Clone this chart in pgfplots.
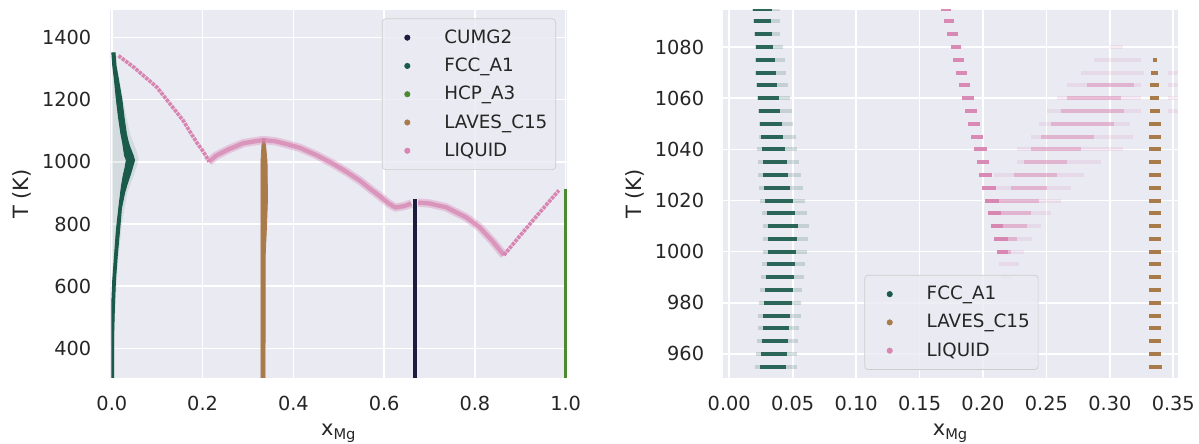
\documentclass[border=0pt]{standalone}
\usepackage{fontspec}
\setmainfont{DejaVu Sans}
\usepackage{pgfplots}
\pgfplotsset{compat=1.18}
\usepackage{pgfplotstable}
\definecolor{bgc}{HTML}{EAEAF2}
\definecolor{txtc}{HTML}{262626}
\definecolor{legedge}{HTML}{CCCCCC}
\definecolor{cumgc}{HTML}{1C1D3E}
\definecolor{fccc}{HTML}{1A5A4B}
\definecolor{hcpc}{HTML}{4B8A31}
\definecolor{lavc}{HTML}{A97B4B}
\definecolor{liqc}{HTML}{D885B2}

% Right panel data: T, dense low/high, faint low/high
\pgfplotstableread{
T lo hi flo fhi
1095 0.0190 0.0335 0.0180 0.0400
1090 0.0195 0.0327 0.0185 0.0401
1085 0.0203 0.0335 0.0193 0.0401
1080 0.0211 0.0348 0.0201 0.0427
1075 0.0211 0.0361 0.0201 0.0440
1070 0.0211 0.0369 0.0201 0.0448
1065 0.0221 0.0379 0.0211 0.0466
1060 0.0229 0.0393 0.0219 0.0480
1055 0.0235 0.0401 0.0225 0.0498
1050 0.0243 0.0414 0.0233 0.0506
1045 0.0248 0.0427 0.0238 0.0527
1040 0.0256 0.0440 0.0216 0.0532
1035 0.0264 0.0458 0.0224 0.0553
1030 0.0269 0.0466 0.0229 0.0564
1025 0.0274 0.0480 0.0234 0.0580
1020 0.0282 0.0506 0.0242 0.0598
1015 0.0295 0.0519 0.0255 0.0611
1010 0.0308 0.0545 0.0268 0.0632
1005 0.0308 0.0537 0.0268 0.0624
1000 0.0308 0.0527 0.0268 0.0611
995 0.0295 0.0519 0.0255 0.0598
990 0.0290 0.0514 0.0250 0.0590
985 0.0282 0.0506 0.0242 0.0572
980 0.0277 0.0493 0.0237 0.0564
975 0.0269 0.0480 0.0229 0.0564
970 0.0264 0.0472 0.0224 0.0553
965 0.0258 0.0466 0.0218 0.0545
960 0.0253 0.0458 0.0213 0.0537
955 0.0243 0.0448 0.0203 0.0532
950 0.0243 0.0440 0.0203 0.0520
}\fccR

\pgfplotstableread{
T lo hi
1095 0.1670 0.1744
1090 0.1691 0.1775
1085 0.1717 0.1801
1080 0.1744 0.1828
1075 0.1765 0.1854
1070 0.1788 0.1875
1065 0.1812 0.1901
1060 0.1836 0.1928
1055 0.1857 0.1954
1050 0.1880 0.1975
1045 0.1904 0.2001
1040 0.1928 0.2028
1035 0.1949 0.2049
1030 0.1970 0.2073
1025 0.1994 0.2099
1020 0.2015 0.2125
1015 0.2038 0.2140
1010 0.2060 0.2160
1005 0.2086 0.2200
1000 0.2107 0.2200
}\liqDense

\pgfplotstableread{
T lo hi
1000 0.2107 0.2218
1005 0.2086 0.2270
1010 0.2060 0.2349
1015 0.2038 0.2375
1020 0.2015 0.2441
1025 0.2218 0.2507
1030 0.2244 0.2586
1035 0.2323 0.2665
1040 0.2375 0.2771
1045 0.2455 0.2876
1050 0.2533 0.3034
1055 0.2612 0.3113
1060 0.2665 0.3086
1065 0.2823 0.3192
}\liqMed

\pgfplotstableread{
T lo hi
990 0.2152 0.2231
995 0.2125 0.2283
1000 0.2107 0.2323
1005 0.2086 0.2389
1010 0.2060 0.2455
1015 0.2038 0.2533
1020 0.2015 0.2612
1025 0.2073 0.2691
1030 0.2086 0.2797
1035 0.2270 0.2928
1040 0.2270 0.3100
1045 0.2375 0.3179
1050 0.2441 0.3155
1055 0.2507 0.3244
1060 0.2586 0.3244
1065 0.2665 0.3244
1070 0.2771 0.3271
1075 0.2876 0.3244
1080 0.3000 0.3100
1055 0.3455 0.3560
1060 0.3455 0.3560
1065 0.3455 0.3560
1070 0.3455 0.3560
}\liqFaint

\pgfplotstableread{
T lo hi
1075 0.3340 0.3370
1070 0.3325 0.3380
1065 0.3320 0.3385
1060 0.3320 0.3390
1055 0.3315 0.3395
1050 0.3310 0.3400
1045 0.3305 0.3405
1040 0.3305 0.3405
1035 0.3305 0.3405
1030 0.3305 0.3405
1025 0.3305 0.3405
1020 0.3305 0.3405
1015 0.3305 0.3405
1010 0.3305 0.3405
1005 0.3305 0.3405
1000 0.3305 0.3405
995 0.3305 0.3405
990 0.3305 0.3405
985 0.3305 0.3405
980 0.3305 0.3405
975 0.3305 0.3405
970 0.3305 0.3405
965 0.3305 0.3405
960 0.3305 0.3405
955 0.3305 0.3408
}\lavR

\pgfplotsset{
  sb/.style={
    scale only axis,
    anchor=south west,
    axis background/.style={fill=bgc},
    axis line style={draw=none},
    grid=major,
    major grid style={white, line width=1pt},
    major tick length=0pt,
    tick style={draw=none},
    tick label style={font=\fontsize{11.6}{13}\selectfont, text=txtc},
    /pgf/number format/assume math mode=true,
    /pgf/number format/1000 sep={},
    yticklabel style={xshift=-8pt},
    xticklabel style={yshift=-7.3pt},
    label style={font=\fontsize{12.6}{15}\selectfont, text=txtc},
    xlabel={x\textsubscript{Mg}},
    ylabel={T (K)},
    xlabel style={at={(axis description cs:0.5,0)}, anchor=base, yshift=-34.8pt},
    ylabel style={at={(axis description cs:-0.18,0.5)}, anchor=base},
    legend cell align=left,
    legend image code/.code={\path (0pt,0pt) (31.8pt,0pt); \fill[##1, fill opacity=1] (11.8pt,0pt) circle (1.6pt);},
    legend style={fill=bgc, fill opacity=0.8, text opacity=1, draw=legedge,
      rounded corners=2pt, font=\fontsize{11}{13}\selectfont, text=txtc,
      row sep=3.3pt, inner xsep=3pt, inner ysep=4.5pt},
  },
  ebar/.style 2 args={forget plot, draw=none, mark=*, mark size=0pt,
    mark options={draw opacity=0, fill opacity=0},
    error bars/.cd, x dir=both, x explicit, error mark=none,
    error bar style={line width=2.4pt, draw=#1, opacity=#2, solid}},
}

\begin{document}
\begin{tikzpicture}
\path[use as bounding box] (0,0) rectangle (719.4pt,266.4pt);

% ---------------- Left panel ----------------
\begin{axis}[sb, at={(66.3pt,39.6pt)}, width=273.9pt, height=220.8pt,
  xmin=-0.003, xmax=1.003, ymin=305, ymax=1488,
  xtick={0,0.2,0.4,0.6,0.8,1.0},
  xticklabels={0.0,0.2,0.4,0.6,0.8,1.0},
  ytick={400,600,800,1000,1200,1400},
  legend style={at={(0.976,0.977)}, anchor=north east}]
% FCC_A1 halo
\addplot[forget plot, fill=fccc, draw=none, fill opacity=0.1] coordinates {
(0,290) (0.005,290) (0.007,500) (0.012,650) (0.022,800) (0.034,900) (0.048,955)
(0.056,990) (0.059,1010) (0.056,1030) (0.048,1060) (0.040,1090) (0.031,1150)
(0.021,1230) (0.012,1300) (0.009,1350) (0,1350)};
% FCC_A1 dense band
\addplot[forget plot, fill=fccc, draw=fccc, line width=0.6pt] coordinates {
(0.004,290) (0.004,450) (0.006,550) (0.008,620) (0.012,700) (0.017,780) (0.021,850)
(0.028,900) (0.034,930) (0.041,960) (0.046,985) (0.050,1005) (0.047,1020)
(0.043,1035) (0.039,1050) (0.035,1070) (0.032,1090) (0.027,1140) (0.022,1200)
(0.015,1260) (0.009,1310) (0.007,1350)
(0.0,1350) (0.002,1310) (0.006,1260) (0.010,1200) (0.015,1140) (0.020,1090)
(0.024,1060) (0.028,1020) (0.032,1005) (0.029,980) (0.025,955) (0.021,920)
(0.016,860) (0.010,780) (0.006,700) (0.002,620) (0.0,550) (0.0,290)};
% LAVES_C15
\addplot[forget plot, fill=lavc, draw=lavc, line width=0.5pt] coordinates {
(0.3285,290) (0.3285,1000) (0.3310,1060) (0.3330,1074) (0.3365,1074) (0.3390,1050)
(0.3420,1000) (0.3430,880) (0.3410,800) (0.3380,700) (0.3375,290)};
% CUMG2
\addplot[forget plot, cumgc, line width=2.4pt] coordinates {(0.667,290) (0.667,880)};
% HCP_A3
\addplot[forget plot, hcpc, line width=1.7pt] coordinates {(1.0,290) (1.0,913)};
% LIQUID (crisp parts)
\addplot[forget plot, liqc, line width=2.2pt, dash pattern=on 2pt off 0.6pt] coordinates {
(0.0146,1341) (0.05,1302) (0.099,1240) (0.157,1133) (0.1707,1100)
(0.188,1060) (0.198,1040) (0.207,1020) (0.214,1000)};
\addplot[forget plot, liqc, line width=2.2pt, dash pattern=on 2pt off 0.6pt] coordinates {
(0.864,700) (0.897,758) (0.934,822) (0.960,866) (0.985,908)};
% LIQUID (diffuse parts)
\addplot[forget plot, liqc, line width=5pt, opacity=0.35, line join=round] coordinates {
(0.214,1000) (0.23,1020) (0.257,1040) (0.29,1060) (0.333,1070) (0.36,1066)
(0.385,1057) (0.414,1045) (0.45,1022) (0.487,994) (0.52,965) (0.546,940)
(0.57,912) (0.59,890) (0.61,866) (0.625,853) (0.645,858) (0.66,866)};
\addplot[forget plot, liqc, line width=2.6pt, opacity=0.75, line join=round] coordinates {
(0.214,1000) (0.23,1020) (0.257,1040) (0.29,1060) (0.333,1070) (0.36,1066)
(0.385,1057) (0.414,1045) (0.45,1022) (0.487,994) (0.52,965) (0.546,940)
(0.57,912) (0.59,890) (0.61,866) (0.625,853) (0.645,858) (0.66,866)};
\addplot[forget plot, liqc, line width=5pt, opacity=0.35, line join=round] coordinates {
(0.675,869) (0.700,866) (0.736,854) (0.780,822) (0.810,790) (0.8387,745) (0.864,700)};
\addplot[forget plot, liqc, line width=2.6pt, opacity=0.75, line join=round] coordinates {
(0.675,869) (0.700,866) (0.736,854) (0.780,822) (0.810,790) (0.8387,745) (0.864,700)};
\addlegendimage{cumgc}\addlegendentry{CUMG2}
\addlegendimage{fccc}\addlegendentry{FCC\_A1}
\addlegendimage{hcpc}\addlegendentry{HCP\_A3}
\addlegendimage{lavc}\addlegendentry{LAVES\_C15}
\addlegendimage{liqc}\addlegendentry{LIQUID}
\end{axis}

% ---------------- Right panel ----------------
\begin{axis}[sb, at={(433.98pt,39.6pt)}, width=272.64pt, height=220.8pt,
  xmin=-0.0047, xmax=0.3535, ymin=950.6, ymax=1094.5,
  xtick={0,0.05,0.10,0.15,0.20,0.25,0.30,0.35},
  xticklabels={0.00,0.05,0.10,0.15,0.20,0.25,0.30,0.35},
  ytick={960,980,1000,1020,1040,1060,1080},
  ylabel style={at={(axis description cs:-0.1805,0.5)}},
  legend style={at={(0.3105,0.022)}, anchor=south west}]
\addplot[ebar={fccc}{0.18}] table[x expr={(\thisrow{flo}+\thisrow{fhi})/2}, y=T,
  x error expr={(\thisrow{fhi}-\thisrow{flo})/2}] {\fccR};
\addplot[ebar={fccc}{0.9}] table[x expr={(\thisrow{lo}+\thisrow{hi})/2}, y=T,
  x error expr={(\thisrow{hi}-\thisrow{lo})/2}] {\fccR};
\addplot[ebar={lavc}{1}] table[x expr={(\thisrow{lo}+\thisrow{hi})/2}, y=T,
  x error expr={(\thisrow{hi}-\thisrow{lo})/2}] {\lavR};
\addplot[ebar={liqc}{0.15}] table[x expr={(\thisrow{lo}+\thisrow{hi})/2}, y=T,
  x error expr={(\thisrow{hi}-\thisrow{lo})/2}] {\liqFaint};
\addplot[ebar={liqc}{0.45}] table[x expr={(\thisrow{lo}+\thisrow{hi})/2}, y=T,
  x error expr={(\thisrow{hi}-\thisrow{lo})/2}] {\liqMed};
\addplot[ebar={liqc}{0.95}] table[x expr={(\thisrow{lo}+\thisrow{hi})/2}, y=T,
  x error expr={(\thisrow{hi}-\thisrow{lo})/2}] {\liqDense};
\addlegendimage{fccc}\addlegendentry{FCC\_A1}
\addlegendimage{lavc}\addlegendentry{LAVES\_C15}
\addlegendimage{liqc}\addlegendentry{LIQUID}
\end{axis}
\end{tikzpicture}
\end{document}
